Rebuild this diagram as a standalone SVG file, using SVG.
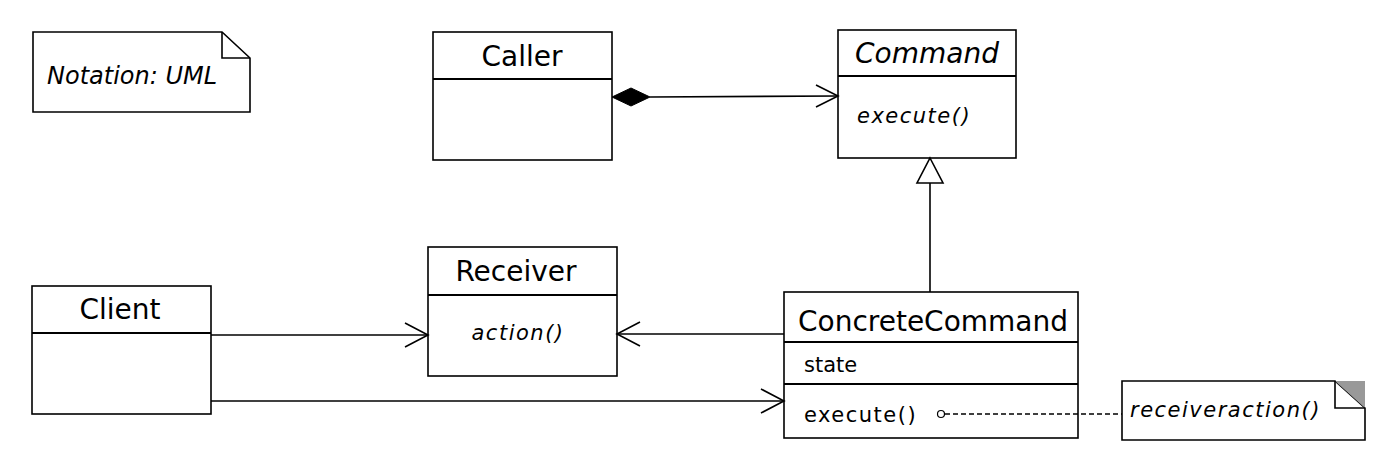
<svg xmlns="http://www.w3.org/2000/svg" width="1400" height="470" viewBox="0 0 1400 470">
<style>
.box{fill:#fff;stroke:#000;stroke-width:1.6}
.div{stroke:#000;stroke-width:2}
.title{font-family:"DejaVu Sans",sans-serif;font-size:28px;fill:#000}
.attr{font-family:"DejaVu Sans",sans-serif;font-size:21px;fill:#000;letter-spacing:1.5px}
.it{font-style:italic}
.line{fill:none;stroke:#000;stroke-width:1.6}
.head{fill:none;stroke:#000;stroke-width:1.6}
</style>
<rect width="1400" height="470" fill="#fff"/>
<g id="note-notation">
<path class="box" d="M33,32 H222 L250,58 V112 H33 Z"/>
<path class="line" d="M222,32 V58 H250"/>
<text x="47" y="84" class="attr it" style="font-size:24px;letter-spacing:0">Notation: UML</text>
</g>
<g id="caller">
<rect class="box" x="433" y="32" width="179" height="128"/>
<line class="div" x1="433" y1="79" x2="612" y2="79"/>
<text x="522" y="66" class="title" text-anchor="middle">Caller</text>
</g>
<g id="command">
<rect class="box" x="838" y="30" width="178" height="128"/>
<line class="div" x1="838" y1="76" x2="1016" y2="76"/>
<text x="927" y="63" class="title it" text-anchor="middle">Command</text>
<text x="857" y="123" class="attr it">execute()</text>
</g>
<g id="receiver">
<rect class="box" x="428" y="247" width="189" height="129"/>
<line class="div" x1="428" y1="295" x2="617" y2="295"/>
<text x="516" y="281" class="title" text-anchor="middle">Receiver</text>
<text x="518" y="340" class="attr it" text-anchor="middle">action()</text>
</g>
<g id="client">
<rect class="box" x="32" y="286" width="179" height="128"/>
<line class="div" x1="32" y1="333" x2="211" y2="333"/>
<text x="120" y="319" class="title" text-anchor="middle">Client</text>
</g>
<g id="concretecommand">
<rect class="box" x="784" y="292" width="294" height="146"/>
<line class="div" x1="784" y1="342" x2="1078" y2="342"/>
<line class="div" x1="784" y1="384" x2="1078" y2="384"/>
<text x="933" y="331" class="title" text-anchor="middle">ConcreteCommand</text>
<text x="804" y="372" class="attr" style="letter-spacing:0">state</text>
<text x="804" y="422" class="attr">execute()</text>
</g>
<g id="note-receiver">
<path class="box" d="M1122,381 H1335 L1365,408 V440 H1122 Z"/>
<path d="M1335,381 H1365 V408 Z" fill="#999"/>
<path class="line" d="M1335,381 V408 H1365"/>
<text x="1130" y="417" class="attr it">receiveraction()</text>
</g>
<g id="connectors">
<line class="line" x1="650" y1="97" x2="838" y2="96"/>
<path d="M612,97 L631,88 L650,97 L631,106 Z" fill="#000" stroke="#000" stroke-width="1"/>
<path class="head" d="M816,85 L838,96 L816,107"/>
<line class="line" x1="930" y1="292" x2="930" y2="183"/>
<path d="M930,158 L943,183 L917,183 Z" fill="#fff" stroke="#000" stroke-width="1.6"/>
<line class="line" x1="211" y1="335" x2="428" y2="335"/>
<path class="head" d="M405,323 L428,335 L405,347"/>
<line class="line" x1="784" y1="334" x2="617" y2="334"/>
<path class="head" d="M640,322 L617,334 L640,346"/>
<line class="line" x1="211" y1="401" x2="784" y2="401"/>
<path class="head" d="M761,389 L784,401 L761,413"/>
<circle cx="941" cy="414" r="3.5" fill="#fff" stroke="#000" stroke-width="1.2"/>
<line x1="945" y1="414" x2="1122" y2="414" stroke="#000" stroke-width="1.6" stroke-dasharray="5,3"/>
</g>
</svg>
